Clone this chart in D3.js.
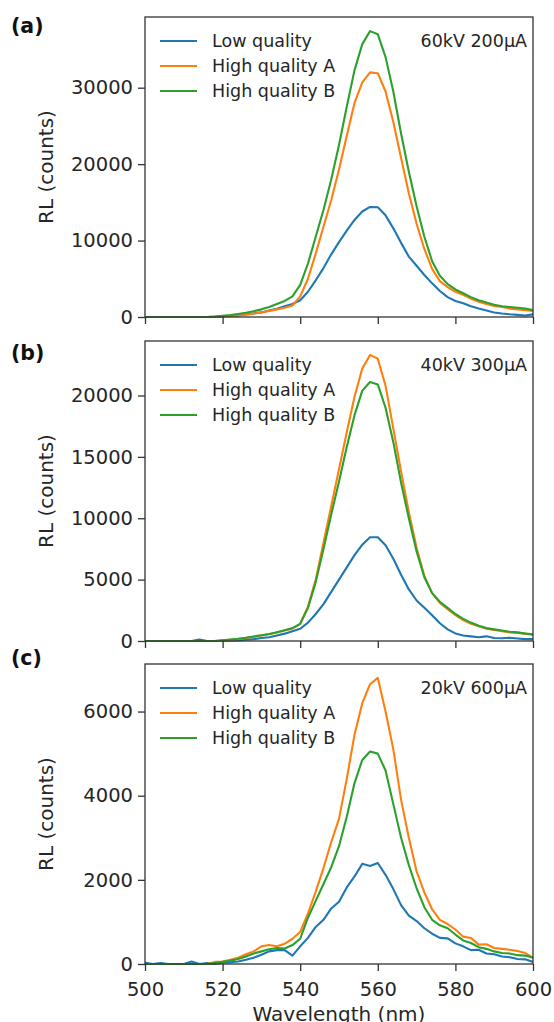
<!DOCTYPE html>
<html>
<head>
<meta charset="utf-8">
<script src="https://cdn.jsdelivr.net/npm/d3@7"></script>
<style>
  html, body { margin: 0; padding: 0; background: #fff; }
  svg { display: block; font-family: "DejaVu Sans", sans-serif; }
</style>
</head>
<body>
<svg id="chart"></svg>
<script>
// RL spectra, three tube settings, three samples each

const WAVELENGTH = [500, 502, 504, 506, 508, 510, 512, 514, 516, 518,
    520, 522, 524, 526, 528, 530, 532, 534, 536, 538,
    540, 542, 544, 546, 548, 550, 552, 554, 556, 558,
    560, 562, 564, 566, 568, 570, 572, 574, 576, 578,
    580, 582, 584, 586, 588, 590, 592, 594, 596, 598, 600];

// (a) 60kV 200µA
const A_LOW  = [0, 0, 0, 0, 0, 0, 0, 0, 0, 40,
    100, 150, 200, 330, 460, 600, 850, 1080, 1400, 1700,
    2200, 3300, 4800, 6400, 8200, 9800, 11300, 12700, 13800, 14400,
    14350, 13300, 11600, 9700, 7900, 6700, 5500, 4400, 3400, 2600,
    2100, 1800, 1400, 1100, 850, 600, 450, 350, 280, 200, 350];
const A_HQA  = [0, 0, 0, 0, 0, 0, 0, 0, 0, 0,
    30, 100, 200, 300, 450, 600, 800, 1000, 1200, 1500,
    2700, 5000, 8300, 11800, 15300, 19300, 23700, 28000, 30700, 32000,
    31900, 29500, 25500, 20800, 16200, 12200, 8900, 6300, 4700, 3900,
    3300, 2900, 2400, 2000, 1700, 1450, 1300, 1100, 1000, 900, 800];
const A_HQB  = [0, 0, 0, 0, 0, 0, 0, 0, 0, 50,
    150, 250, 400, 550, 750, 1000, 1300, 1700, 2100, 2700,
    4200, 7000, 10500, 14000, 18000, 22500, 27500, 32300, 35700, 37400,
    37000, 34000, 29500, 24000, 19000, 14500, 10500, 7300, 5400, 4300,
    3600, 3100, 2600, 2200, 1900, 1600, 1400, 1300, 1200, 1100, 900];

// (b) 40kV 300µA
const B_LOW  = [0, 0, 0, 0, 0, 0, 0, 120, 0, 0,
    0, 20, 50, 100, 150, 250, 300, 450, 600, 800,
    1000, 1500, 2200, 3000, 4000, 5000, 6000, 7000, 7850, 8450,
    8450, 7800, 6700, 5400, 4200, 3300, 2700, 2100, 1450, 950,
    620, 450, 380, 300, 380, 250, 220, 260, 200, 150, 150];
const B_HQA  = [0, 0, 0, 0, 0, 0, 0, 0, 0, 0,
    50, 100, 150, 250, 350, 450, 550, 700, 850, 1000,
    1400, 2800, 5000, 8000, 11000, 14000, 17000, 19900, 22200, 23300,
    23000, 20800, 17300, 13800, 10500, 7600, 5300, 3900, 3100, 2600,
    2100, 1700, 1400, 1200, 1000, 900, 800, 700, 650, 600, 500];
const B_HQB  = [0, 0, 0, 0, 0, 0, 0, 0, 0, 0,
    60, 120, 180, 270, 370, 470, 570, 720, 870, 1050,
    1400, 2700, 4800, 7500, 10300, 13000, 15800, 18400, 20400, 21100,
    20900, 19000, 16200, 12900, 10000, 7300, 5200, 3900, 3200, 2700,
    2200, 1800, 1500, 1250, 1050, 950, 850, 750, 700, 600, 550];

// (c) 20kV 600µA
const C_LOW  = [30, 0, 20, 0, 0, 0, 60, 0, 20, 0,
    30, 40, 60, 100, 150, 220, 300, 330, 330, 200,
    420, 620, 880, 1050, 1320, 1480, 1820, 2080, 2380, 2330,
    2400, 2120, 1780, 1400, 1150, 1020, 850, 720, 620, 610,
    490, 420, 330, 340, 250, 230, 180, 160, 120, 110, 50];
const C_HQA  = [0, 0, 0, 0, 0, 0, 0, 0, 0, 50,
    60, 100, 150, 230, 300, 420, 450, 420, 480, 600,
    760, 1200, 1720, 2280, 2900, 3450, 4400, 5450, 6200, 6650,
    6800, 6000, 5100, 3900, 3000, 2200, 1700, 1300, 1050, 950,
    820, 650, 620, 460, 470, 380, 360, 340, 310, 260, 150];
const C_HQB  = [0, 0, 0, 0, 0, 0, 0, 0, 0, 20,
    50, 80, 120, 180, 250, 300, 350, 380, 370, 450,
    600, 1100, 1500, 1900, 2300, 2800, 3500, 4300, 4850, 5050,
    5000, 4600, 3800, 3000, 2350, 1800, 1350, 1050, 920, 850,
    700, 560, 500, 400, 360, 300, 260, 250, 210, 200, 150];

const SERIES_NAMES  = ['Low quality', 'High quality A', 'High quality B'];
const SERIES_COLORS = ['#1f77b4', '#ff7f0e', '#2ca02c'];

const PANEL_LABELS = ['(a)', '(b)', '(c)'];
const PANEL_NOTES  = ['60kV 200µA', '40kV 300µA', '20kV 600µA'];
const PANEL_YMAX   = [39250, 24440, 7130];
const PANEL_YTICKS = [[0, 10000, 20000, 30000], [0, 5000, 10000, 15000, 20000], [0, 2000, 4000, 6000]];
const PANEL_DATA   = [[A_LOW, A_HQA, A_HQB], [B_LOW, B_HQA, B_HQB], [C_LOW, C_HQA, C_HQB]];
const X_TICKS = [500, 520, 540, 560, 580, 600];

const W = 554, H = 1022;
const LEFT = 145, RIGHT = 533;
const TOPS = [17, 341, 664];
const PH = 300;
const AXIS = '#333';

const svg = d3.select('#chart').attr('width', W).attr('height', H);
svg.append('rect').attr('width', W).attr('height', H).attr('fill', '#fff');

const x = d3.scaleLinear().domain([500, 600]).range([LEFT, RIGHT]);

PANEL_DATA.forEach((series, p) => {
    const top = TOPS[p];
    const y = d3.scaleLinear().domain([0, PANEL_YMAX[p]]).range([top + PH, top]);
    const g = svg.append('g');

    const clipId = 'clip-' + p;
    svg.append('defs').append('clipPath').attr('id', clipId)
        .append('rect').attr('x', LEFT).attr('y', top - 2).attr('width', RIGHT - LEFT).attr('height', PH + 4);

    // lines
    const line = d3.line().x((d, i) => x(WAVELENGTH[i])).y(d => y(d));
    const linesG = g.append('g').attr('clip-path', `url(#${clipId})`);
    series.forEach((vals, s) => {
        linesG.append('path').datum(vals)
            .attr('d', line)
            .attr('fill', 'none')
            .attr('stroke', SERIES_COLORS[s])
            .attr('stroke-width', 2.1)
            .attr('stroke-linejoin', 'round');
    });

    // axes
    const yAxis = g.append('g').attr('transform', `translate(${LEFT},0)`)
        .call(d3.axisLeft(y).tickValues(PANEL_YTICKS[p]).tickFormat(d3.format('d'))
            .tickSize(7).tickPadding(5).tickSizeOuter(0));
    const xAxis = g.append('g').attr('transform', `translate(0,${top + PH})`)
        .call(d3.axisBottom(x).tickValues(X_TICKS).tickSize(7).tickPadding(11).tickSizeOuter(0)
            .tickFormat(p === 2 ? d3.format('d') : ''));
    [yAxis, xAxis].forEach(a => {
        a.select('.domain').remove();
        a.selectAll('line').attr('stroke', AXIS).attr('stroke-width', 1.3);
        a.selectAll('text').attr('fill', '#262626').attr('font-size', '19.5px')
            .attr('font-family', '"DejaVu Sans", sans-serif');
    });

    // frame
    g.append('rect')
        .attr('x', LEFT).attr('y', top).attr('width', RIGHT - LEFT).attr('height', PH)
        .attr('fill', 'none').attr('stroke', AXIS).attr('stroke-width', 1.3);

    // y label
    g.append('text')
        .attr('transform', `translate(46,${top + PH / 2}) rotate(-90)`)
        .attr('text-anchor', 'middle').attr('dominant-baseline', 'central')
        .attr('fill', '#262626').attr('font-size', '20px')
        .text('RL (counts)');

    // panel letter
    g.append('text')
        .attr('x', 11).attr('y', [33, 360, 665][p])
        .attr('fill', '#111').attr('font-size', '20.5px').attr('font-weight', 'bold')
        .text(PANEL_LABELS[p]);

    // legend
    const legG = g.append('g');
    SERIES_NAMES.forEach((name, s) => {
        const ly = top + 24 + s * 25;
        legG.append('line')
            .attr('x1', 160).attr('x2', 197).attr('y1', ly).attr('y2', ly)
            .attr('stroke', SERIES_COLORS[s]).attr('stroke-width', 2.1);
        legG.append('text')
            .attr('x', 212).attr('y', ly).attr('dominant-baseline', 'central')
            .attr('fill', '#262626').attr('font-size', '17.5px')
            .text(name);
    });

    // condition note
    g.append('text')
        .attr('x', 527).attr('y', top + 24).attr('dominant-baseline', 'central')
        .attr('text-anchor', 'end')
        .attr('fill', '#262626').attr('font-size', '17.5px')
        .text(PANEL_NOTES[p]);
});

// x label (bottom edge cuts it, as in the source image)
svg.append('text')
    .attr('x', (LEFT + RIGHT) / 2).attr('y', 1021)
    .attr('text-anchor', 'middle')
    .attr('fill', '#262626').attr('font-size', '20px')
    .text('Wavelength (nm)');
</script>
</body>
</html>
